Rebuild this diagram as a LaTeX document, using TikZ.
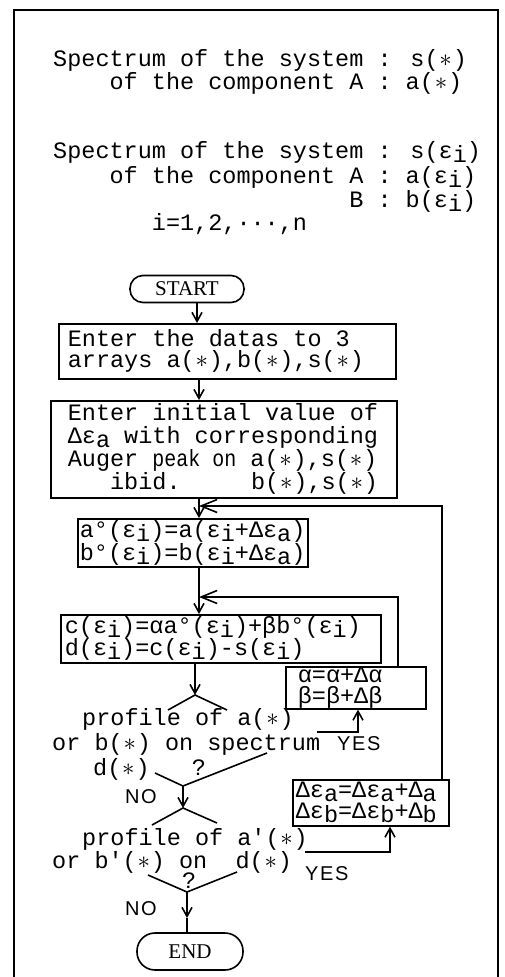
\documentclass[tikz,border=0pt]{standalone}
\usepackage{fontspec}
\usepackage{graphicx}
\setmainfont{Liberation Mono}[Ligatures=TeXOff]
\newfontfamily\serf{Liberation Serif}
\newfontfamily\lab[LetterSpace=8]{Liberation Sans}
\usetikzlibrary{arrows.meta}
\newcommand\lo[1]{\raisebox{-4pt}{#1}}
\newcommand\st{\makebox[0.6em]{$\ast$}}
\newcommand\mf[1]{\fontsize{23.5}{#1}\selectfont}
\newcommand\ms{\spaceskip=0.6em\relax\xspaceskip=0.6em\relax}
\begin{document}
\begin{tikzpicture}[x=1pt,y=-1pt,
 box/.style={draw, line width=1.6pt, anchor=north west, align=left, inner ysep=0pt, execute at begin node=\ms},
 txt/.style={anchor=base west, inner sep=0pt, font=\mf{24}},
 lbl/.style={anchor=base west, inner sep=0pt, font=\lab\fontsize{20}{20}\selectfont},
 term/.style={draw, line width=1.6pt, font=\serf\fontsize{21}{22}\selectfont},
 ln/.style={line width=1.6pt},
 arr/.style={line width=1.6pt, -{Straight Barb[length=9pt,width=10pt]}},
 fb/.style={line width=1.6pt, -{Straight Barb[length=16pt,width=13pt]}},
]
\useasboundingbox (0,0) rectangle (504,977);
\draw[line width=2pt] (14,977) -- (14,10) -- (498,10) -- (498,977);

% header text
\node[txt] (t1) at (53,66) {Spectrum of the system : s(\st)};
\node[txt] (t2) at (53,89) {\phantom{xxxx}of the component A : a(\st)};
\node[txt] (t3) at (53,158) {Spectrum of the system : s(ε\lo{i})};
\node[txt] (t4) at (53,183) {\phantom{xxxx}of the component A : a(ε\lo{i})};
\node[txt] (t5) at (53,207) {\phantom{xxxxxxxxxxxxxxxxxxxxx}B : b(ε\lo{i})};
\node[txt] (t6) at (53,230) {\phantom{xxxxxxx}i=1,2,···,n};

% terminals
\node[term, rounded corners=13pt, minimum width=114pt, minimum height=27pt] (startn) at (187,289) {START};
\node[term, rounded corners=18pt, minimum width=106pt, minimum height=37pt] (endn) at (190,951.5) {END};

% boxes
\node[box, font=\mf{21}, inner xsep=9pt, text width=319pt, minimum width=337pt, minimum height=55pt] (b1) at (58,323)
 {Enter the datas to 3\\arrays a(\st),b(\st),s(\st)};
\node[box, font=\mf{23}, inner xsep=17pt, text width=312pt, minimum width=346pt, minimum height=97pt] (b2) at (50,400)
 {Enter initial value of\\Δε\lo{a} with corresponding\\Auger \scalebox{0.85}[1]{peak on} a(\st),s(\st)\\\phantom{xxx}ibid.~~~~~b(\st),s(\st)};
\node[box, font=\mf{21}, inner xsep=2pt, text width=226pt, minimum width=230pt, minimum height=48pt] (b3) at (77,518)
 {a°(ε\lo{i})=a(ε\lo{i}+Δε\lo{a})\\b°(ε\lo{i})=b(ε\lo{i}+Δε\lo{a})};
\node[box, font=\mf{22}, inner xsep=4pt, text width=312pt, minimum width=320pt, minimum height=48pt] (b4) at (60,614)
 {c(ε\lo{i})=αa°(ε\lo{i})+βb°(ε\lo{i})\\d(ε\lo{i})=c(ε\lo{i})-s(ε\lo{i})};
\node[box, font=\mf{21}, inner xsep=12pt, text width=116pt, minimum width=140pt, minimum height=42pt] (al) at (285,666)
 {α=α+Δα\\β=β+Δβ};
\node[box, font=\mf{21}, inner xsep=3pt, text width=150pt, minimum width=156pt, minimum height=46pt] (de) at (292,779)
 {Δε\lo{a}=Δε\lo{a}+Δ\lo{a}\\Δε\lo{b}=Δε\lo{b}+Δ\lo{b}};

% decision texts
\node[txt] (d1a) at (82,725) {profile of a(\st)};
\node[txt] (d1b) at (52,750) {or b(\st) on spectrum};
\node[txt] (d1c) at (93,775) {d(\st)~~~?};
\node[txt] (d2a) at (82,845) {profile of a'(\st)};
\node[txt] (d2b) at (52,868) {or b'(\st) on~~d(\st)};
\node[txt] (d2c) at (182,888) {?};
\node[lbl] (yes1) at (337,750) {YES};
\node[lbl] (yes2) at (305,880) {YES};
\node[lbl] (no1) at (125,803) {NO};
\node[lbl] (no2) at (125,915) {NO};

% decision shapes
\coordinate (d1top) at (195,695);
\coordinate (d1l) at (168,710);
\coordinate (d1r) at (227,710);
\coordinate (d1bl) at (155,773);
\coordinate (d1br) at (267,753);
\coordinate (d1bot) at (183,786);
\coordinate (d2top) at (183,808);
\coordinate (d2l) at (152,825);
\coordinate (d2r) at (217,823);
\coordinate (d2bl) at (148,875);
\coordinate (d2br) at (237,872);
\coordinate (d2bot) at (187,892);
\draw[ln] (d1l) -- (d1top) -- (d1r);
\draw[ln] (d1bl) -- (d1bot) -- (d1br);
\draw[ln] (d2l) -- (d2top) -- (d2r);
\draw[ln] (d2bl) -- (d2bot) -- (d2br);

% connectors
\coordinate (col) at (199,0);
\draw[arr] ([xshift=10pt]startn.south) -- ([xshift=10pt]startn.south |- b1.north);
\draw[arr] (b1.south -| col) -- (b2.north -| col);
\draw[arr] (b2.south -| col) -- (b3.north -| col);
\draw[arr] (b3.south -| col) -- (b4.north -| col);
\draw[arr] (b4.south -| d1top) -- (d1top);
\draw[arr] (d1bot) -- (d2top);
\coordinate (m2) at (187,918);
\draw[arr] (d2bot) -- (m2);
\draw[ln] (m2) -- (endn.north -| m2);

\coordinate (fb1) at (442,506);
\draw[fb] (fb1 |- de.north) -- (fb1) -- (fb1 -| col);
\coordinate (fb2) at (398,597);
\draw[fb] (fb2 |- al.north) -- (fb2) -- (fb2 -| col);

\coordinate (y1) at (317,732);
\coordinate (y1c) at (358,732);
\draw[arr] (y1) -| (al.south -| y1c);
\coordinate (y2) at (305,852);
\coordinate (y2c) at (390,852);
\draw[arr] (y2) -| (de.south -| y2c);
\end{tikzpicture}
\end{document}
